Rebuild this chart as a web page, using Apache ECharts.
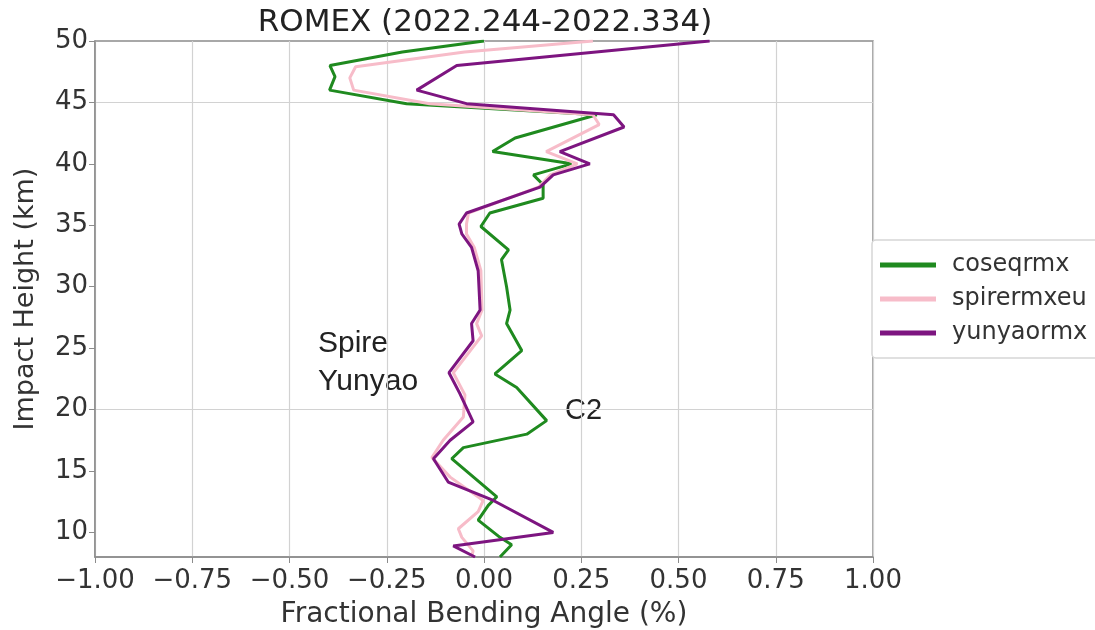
<!DOCTYPE html>
<html>
<head>
<meta charset="utf-8">
<script src="https://cdn.jsdelivr.net/npm/echarts@6/dist/echarts.min.js"></script>
<style>html,body{margin:0;padding:0;background:#fff;}#c{width:1095px;height:630px;}</style>
</head>
<body>
<div id="c"></div>
<script>
const titleText = 'ROMEX (2022.244-2022.334)';
const xTicks = [-1, -0.75, -0.5, -0.25, 0, 0.25, 0.5, 0.75, 1];
const yTicks = [10, 15, 20, 25, 30, 35, 40, 45, 50];
const seriesNames = ['coseqrmx', 'spirermxeu', 'yunyaormx'];

const greenH = [50, 49.1, 48.0, 47.1, 46.0, 44.9, 44.0, 42.1, 41.0, 40.0, 39.1, 38.3, 37.2, 36.0, 34.9, 33.0, 32.2, 30.0, 28.1, 27.0, 24.8, 22.9, 21.8, 19.1, 18.0, 16.9, 16.0, 12.9, 12.2, 11.0, 9.6, 9.0, 8.0];
const greenV = [0.0, -0.21, -0.396, -0.383, -0.397, -0.199, 0.29, 0.08, 0.022, 0.225, 0.127, 0.152, 0.152, 0.015, -0.008, 0.063, 0.045, 0.058, 0.067, 0.058, 0.097, 0.028, 0.084, 0.161, 0.11, -0.053, -0.083, 0.033, 0.011, -0.015, 0.041, 0.071, 0.041];

const pinkH = [50, 49.1, 47.9, 47.0, 46.0, 44.9, 44.0, 43.2, 41.0, 40.0, 39.1, 38.1, 36.0, 35.1, 34.3, 33.2, 31.3, 28.1, 27.0, 26.0, 23.0, 21.2, 19.4, 17.5, 16.1, 14.5, 12.6, 11.7, 10.3, 9.6, 8.5, 8.0];
const pinkV = [0.28, -0.05, -0.33, -0.345, -0.335, -0.14, 0.28, 0.296, 0.16, 0.24, 0.17, 0.14, -0.04, -0.045, -0.045, -0.025, -0.008, -0.005, -0.019, -0.006, -0.079, -0.049, -0.053, -0.105, -0.134, -0.087, -0.002, -0.015, -0.066, -0.057, -0.028, -0.032];

const purpleH = [50, 48.0, 46.0, 44.9, 44.0, 43.0, 41.0, 40.0, 39.1, 38.1, 36.0, 35.1, 34.3, 33.2, 31.3, 28.1, 27.0, 25.6, 23.0, 21.3, 19.0, 17.5, 16.0, 14.1, 12.6, 10.0, 8.9, 8.0];
const purpleV = [0.58, -0.07, -0.173, -0.045, 0.333, 0.36, 0.195, 0.272, 0.178, 0.144, -0.045, -0.064, -0.057, -0.032, -0.015, -0.01, -0.032, -0.028, -0.09, -0.062, -0.028, -0.087, -0.13, -0.092, 0.024, 0.178, -0.079, -0.023];

const colors = ['#1f8a1f', '#f7bcc9', '#7d1580'];

function pairs(v, h) { return v.map((x, i) => [x, h[i]]); }
function fmt(v) { const s = Math.abs(v).toFixed(2); return v < 0 ? '\u2212' + s : s; }

const chart = echarts.init(document.getElementById('c'), null, {renderer: 'canvas'});
const font = 'DejaVu Sans';
const option = {
  backgroundColor: '#fff',
  animation: false,
  title: {
    text: titleText, left: 480, top: 2, textAlign: 'center',
    textStyle: {fontFamily: font, fontSize: 31, fontWeight: 'normal', color: '#222'}
  },
  grid: {left: 95, right: 222, top: 41, bottom: 73, containLabel: false, outerBoundsMode: 'none', show: true, borderColor: '#8c8c8c', borderWidth: 1.5, backgroundColor: 'transparent'},
  legend: {
    left: 872, top: 240, orient: 'vertical',
    data: seriesNames,
    icon: 'rect', itemWidth: 56, itemHeight: 5, itemGap: 10,
    padding: [13, 12, 13, 8],
    backgroundColor: '#fff', borderColor: '#d6d6d6', borderWidth: 1.5, borderRadius: 4,
    textStyle: {fontFamily: font, fontSize: 24, color: '#333', padding: [0, 0, 0, 11]}
  },
  xAxis: {
    type: 'value', min: -1, max: 1, interval: 0.25,
    name: 'Fractional Bending Angle (%)', nameLocation: 'middle', nameGap: 44,
    nameTextStyle: {fontFamily: font, fontSize: 28, color: '#333'},
    axisLine: {show: true, onZero: false, lineStyle: {color: '#8c8c8c', width: 1.5}},
    axisTick: {show: true, length: 6, lineStyle: {color: '#8c8c8c'}},
    axisLabel: {fontFamily: font, fontSize: 26, color: '#333', margin: 11, formatter: fmt},
    splitLine: {show: true, lineStyle: {color: '#d2d2d2', width: 1.2}}
  },
  yAxis: {
    type: 'value', min: 8, max: 50, interval: 1,
    name: 'Impact Height (km)', nameLocation: 'middle', nameGap: 56, nameRotate: 90,
    nameTextStyle: {fontFamily: font, fontSize: 27, color: '#333'},
    axisLine: {show: true, onZero: false, lineStyle: {color: '#8c8c8c', width: 1.5}},
    axisTick: {show: true, length: 6, customValues: yTicks, lineStyle: {color: '#8c8c8c'}},
    axisLabel: {fontFamily: font, fontSize: 26, color: '#333', margin: 7, customValues: yTicks},
    splitLine: {show: true, lineStyle: {color: ['transparent', 'transparent', '#d2d2d2', 'transparent', 'transparent'], width: 1.2}}
  },
  graphic: [
    {type: 'text', x: 318, y: 344, style: {text: 'Spire', fontFamily: 'Liberation Sans', fontSize: 30, fill: '#222', verticalAlign: 'middle'}},
    {type: 'text', x: 318, y: 382, style: {text: 'Yunyao', fontFamily: 'Liberation Sans', fontSize: 30, fill: '#222', verticalAlign: 'middle'}},
    {type: 'text', x: 565, y: 411, style: {text: 'C2', fontFamily: 'Liberation Sans', fontSize: 29, fill: '#222', verticalAlign: 'middle'}}
  ],
  series: [
    {name: seriesNames[0], type: 'line', data: pairs(greenV, greenH), showSymbol: false, symbol: 'none', lineStyle: {color: colors[0], width: 3}, itemStyle: {color: colors[0]}},
    {name: seriesNames[1], type: 'line', data: pairs(pinkV, pinkH), showSymbol: false, symbol: 'none', lineStyle: {color: colors[1], width: 3}, itemStyle: {color: colors[1]}},
    {name: seriesNames[2], type: 'line', data: pairs(purpleV, purpleH), showSymbol: false, symbol: 'none', lineStyle: {color: colors[2], width: 3}, itemStyle: {color: colors[2]}}
  ]
};
chart.setOption(option);
</script>
</body>
</html>
